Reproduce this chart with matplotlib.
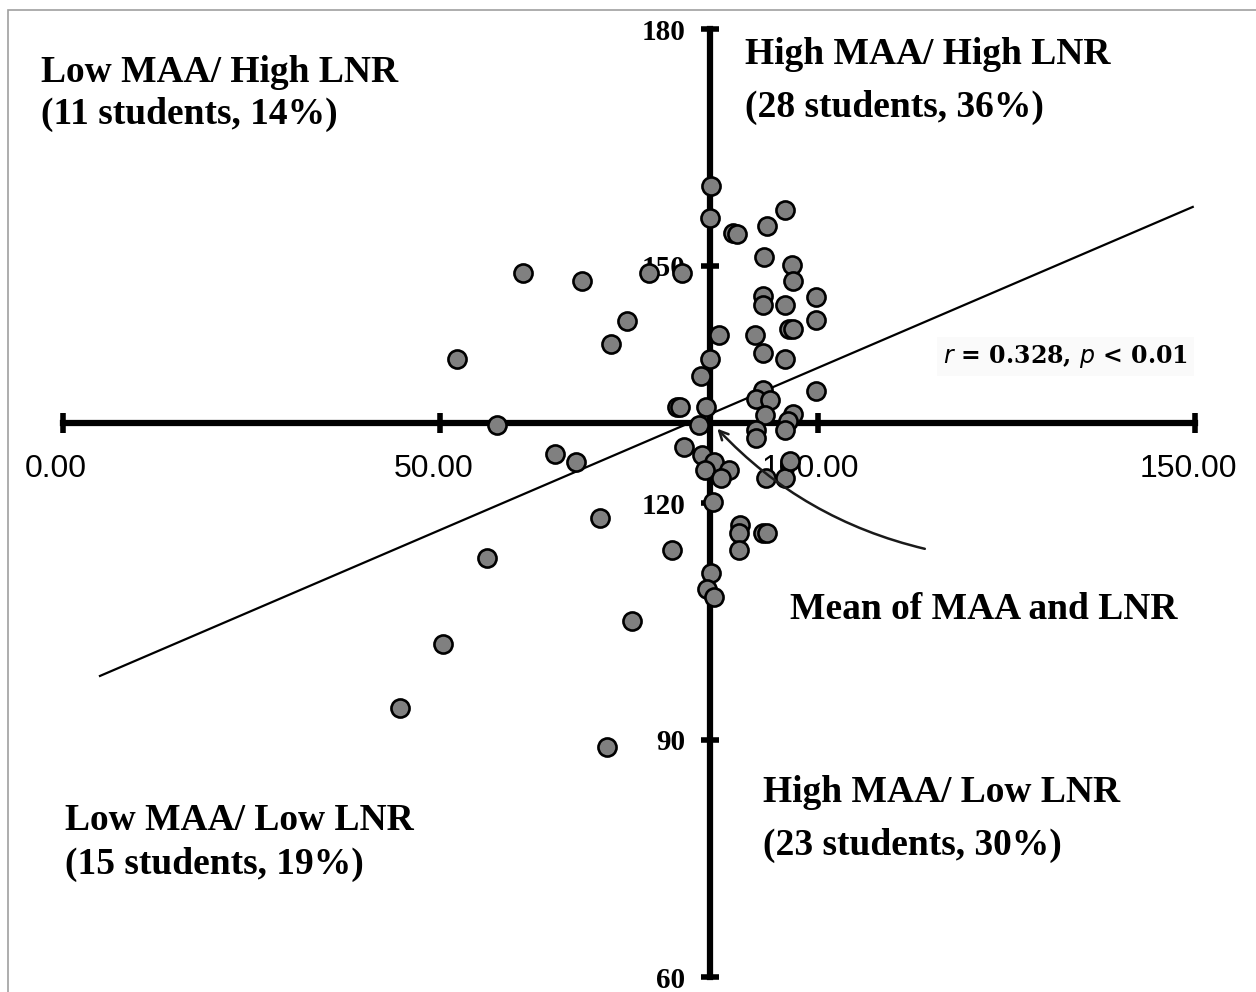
import matplotlib.pyplot as plt
from matplotlib.patches import Rectangle
from matplotlib.transforms import ScaledTranslation

# MAA (x) and LNR (y) scores
maa = [85.9, 85.7, 88.8, 89.3, 93.3, 95.7, 92.9, 96.6, 96.7, 99.8,
       92.8, 92.8, 95.7, 99.8, 96.2, 96.7, 86.9, 91.7, 77.7, 82.0,
       61.0, 68.8, 74.7, 72.6, 52.2, 92.8, 85.7, 95.7, 84.5, 99.8,
       92.8, 91.8, 93.7, 81.4, 81.8, 85.2, 93.0, 96.7, 96.1, 84.3,
       91.8, 95.7, 91.8, 82.3, 84.7, 86.3, 85.1, 88.3, 87.2, 93.2,
       95.7, 96.3, 86.1, 57.5, 65.2, 68.0, 71.2, 56.2, 80.7, 89.7,
       89.6, 89.6, 92.8, 93.3, 85.9, 85.3, 86.3, 75.4, 50.4, 44.7,
       72.1]
lnr = [160.1, 156.1, 154.2, 154.1, 155.1, 157.1, 151.1, 150.1, 148.1, 146.1,
       146.2, 145.1, 145.1, 143.2, 142.0, 142.0, 141.3, 141.3, 149.1, 149.1,
       149.1, 148.1, 143.0, 140.1, 138.2, 139.0, 138.2, 138.2, 136.1, 134.2,
       134.3, 133.2, 133.0, 132.2, 132.2, 132.2, 131.1, 131.3, 130.4, 129.9,
       129.2, 129.2, 128.2, 127.1, 126.1, 125.2, 124.2, 124.2, 123.2, 123.2,
       123.2, 125.3, 120.1, 129.9, 126.2, 125.2, 118.1, 113.0, 114.1, 117.2,
       116.2, 114.1, 116.2, 116.2, 111.1, 109.1, 108.1, 105.1, 102.2, 94.1,
       89.1]

mean_maa = 85.7
mean_lnr = 130.1

fit_slope = 0.41
fit_intercept = 96.1
fit_x = [4.9, 149.7]

xticks = [0, 50, 100, 150]
xtick_labels = ['0.00', '50.00', '100.00', '150.00']
yticks = [60, 90, 120, 150, 180]

W, H = 1256, 992
fig = plt.figure(figsize=(W / 100, H / 100), dpi=100)
fig.patch.set_facecolor('white')
fig.add_artist(Rectangle((8 / W, -0.05), 1.1, 1.05 - 10 / H,
                         transform=fig.transFigure, fill=False,
                         edgecolor='#a0a0a0', linewidth=1.2))

ax = fig.add_axes([63 / W, 1 - 977 / H, (1195 - 63) / W, (977 - 29) / H])
ax.set_facecolor('none')
ax.set_xlim(0, 150)
ax.set_ylim(60, 180)

ax.spines['top'].set_visible(False)
ax.spines['right'].set_visible(False)
ax.spines['left'].set_position(('data', mean_maa))
ax.spines['bottom'].set_position(('data', mean_lnr))
ax.spines['left'].set_linewidth(4.5)
ax.spines['bottom'].set_linewidth(4.5)

ax.set_xticks(xticks)
ax.set_xticklabels(xtick_labels, fontfamily='Liberation Sans', fontsize=23)
ax.set_yticks(yticks)
ax.set_yticklabels([str(v) for v in yticks], fontfamily='Liberation Serif',
                   fontweight='bold', fontsize=21)
ax.tick_params(axis='x', direction='inout', length=15, width=4, pad=15)
ax.tick_params(axis='y', direction='inout', length=13, width=4, pad=11)

# x labels sit a little left of their ticks in the original
shift = ScaledTranslation(-7 / 100, 0, fig.dpi_scale_trans)
for lab in ax.get_xticklabels():
    lab.set_transform(lab.get_transform() + shift)

# regression line
fit_y = [fit_intercept + fit_slope * v for v in fit_x]
ax.plot(fit_x, fit_y, color='black', lw=1.6, zorder=2)

ax.scatter(maa, lnr, s=170, facecolor='#808080', edgecolor='black',
           linewidth=1.9, zorder=3, clip_on=False)

# arrow pointing at the mean
ax.annotate('', xy=(86.7, 129.4), xytext=(114.2, 114.2),
            arrowprops=dict(arrowstyle='->', lw=1.8, color='#1a1a1a',
                            connectionstyle='arc3,rad=-0.15',
                            shrinkA=0, shrinkB=0, mutation_scale=16))

label_font = dict(fontfamily='Liberation Serif', fontweight='bold',
                  fontsize=27, va='baseline', ha='left')


def ftext(px, py, s, **kw):
    fig.text(px / W, 1 - py / H, s, **kw)


ftext(41, 82, 'Low MAA/ High LNR', **label_font)
ftext(41, 124, '(11 students, 14%)', **label_font)
ftext(745, 64, 'High MAA/ High LNR', **label_font)
ftext(745, 117, '(28 students, 36%)', **label_font)
ftext(65, 830, 'Low MAA/ Low LNR', **label_font)
ftext(65, 874, '(15 students, 19%)', **label_font)
ftext(763, 802, 'High MAA/ Low LNR', **label_font)
ftext(763, 855, '(23 students, 30%)', **label_font)
ftext(790, 619, 'Mean of MAA and LNR', **label_font)

ftext(943, 363, r'$r$ = 0.328, $p$ < 0.01', fontfamily='DejaVu Serif',
      fontweight='bold', fontsize=17, va='baseline', ha='left',
      bbox=dict(facecolor='#fafafa', edgecolor='none', pad=4))

fig.savefig('out.png', dpi=100)
